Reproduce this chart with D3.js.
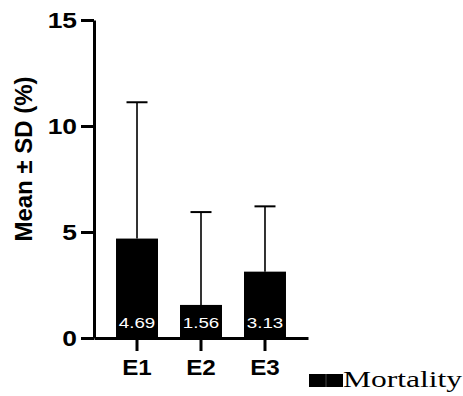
<!DOCTYPE html>
<html>
<head>
<meta charset="utf-8">
<script src="https://cdn.jsdelivr.net/npm/d3@7"></script>
<style>
  body { margin: 0; background: #fff; }
  svg { display: block; }
</style>
</head>
<body>
<svg id="chart" width="463" height="396"></svg>
<script>
const categories = ["E1", "E2", "E3"];
const means = [4.69, 1.56, 3.13];
const sds = [6.43, 4.38, 3.08];
const yTicks = [0, 5, 10, 15];
const seriesName = "Mortality";

const svg = d3.select("#chart");
const x = d3.scaleBand().domain(categories).range([94, 308]).paddingInner(0.344).paddingOuter(0.344);
const y = d3.scaleLinear().domain([0, 15]).range([338, 20]);
const sans = "Liberation Sans, Arial, sans-serif";

// bars
svg.append("g")
  .selectAll("rect")
  .data(categories)
  .join("rect")
  .attr("x", (d) => x(d))
  .attr("y", (d, i) => y(means[i]))
  .attr("width", x.bandwidth())
  .attr("height", (d, i) => y(0) - y(means[i]))
  .attr("fill", "#000");

// error bars, upper half only
const err = svg.append("g").attr("stroke", "#000");
categories.forEach((c, i) => {
  const cx = x(c) + x.bandwidth() / 2;
  err.append("line")
    .attr("x1", cx).attr("x2", cx)
    .attr("y1", y(means[i])).attr("y2", y(means[i] + sds[i]))
    .attr("stroke-width", 1.6);
  err.append("line")
    .attr("x1", cx - 10.5).attr("x2", cx + 10.5)
    .attr("y1", y(means[i] + sds[i])).attr("y2", y(means[i] + sds[i]))
    .attr("stroke-width", 2);
});

// value labels inside bars (source text is a bit wide)
svg.append("g")
  .selectAll("text")
  .data(categories)
  .join("text")
  .attr("transform", (d) => `translate(${x(d) + x.bandwidth() / 2},328) scale(1.25,1)`)
  .attr("text-anchor", "middle")
  .attr("fill", "#fff")
  .attr("font-family", sans)
  .attr("font-size", 15)
  .text((d, i) => means[i].toFixed(2));

// axes
const yAxis = svg.append("g")
  .attr("transform", "translate(94,0)")
  .call(d3.axisLeft(y).tickValues(yTicks).tickSize(13).tickSizeOuter(0));
const xAxis = svg.append("g")
  .attr("transform", `translate(0,${y(0)})`)
  .call(d3.axisBottom(x).tickSize(13).tickSizeOuter(0));

[yAxis, xAxis].forEach((a) => {
  a.select(".domain").attr("stroke", "#000").attr("stroke-width", 3);
  a.selectAll(".tick line").attr("stroke", "#000").attr("stroke-width", 3);
  a.selectAll(".tick text")
    .attr("fill", "#000")
    .attr("font-family", sans)
    .attr("font-weight", "bold")
    .attr("font-size", 22);
});
yAxis.selectAll(".tick text")
  .attr("x", 0)
  .attr("transform", "translate(-17,0) scale(1.2,1)");
xAxis.selectAll(".tick text")
  .attr("y", 0)
  .attr("dy", null)
  .attr("transform", "translate(0,37) scale(1.1,1)");

// y title
svg.append("text")
  .attr("transform", "translate(32,159) rotate(-90)")
  .attr("text-anchor", "middle")
  .attr("font-family", sans)
  .attr("font-weight", "bold")
  .attr("font-size", 24)
  .text("Mean ± SD (%)");

// legend
const legend = svg.append("g");
legend.append("rect").attr("x", 309).attr("y", 374).attr("width", 34).attr("height", 13).attr("fill", "#000");
legend.append("line").attr("x1", 326).attr("x2", 326).attr("y1", 374).attr("y2", 387)
  .attr("stroke", "#777").attr("stroke-width", 0.6);
legend.append("text")
  .attr("x", 343)
  .attr("y", 387)
  .attr("font-family", "Liberation Serif, Times New Roman, serif")
  .attr("font-size", 24)
  .attr("textLength", 119)
  .attr("lengthAdjust", "spacingAndGlyphs")
  .text(seriesName);
</script>
</body>
</html>
